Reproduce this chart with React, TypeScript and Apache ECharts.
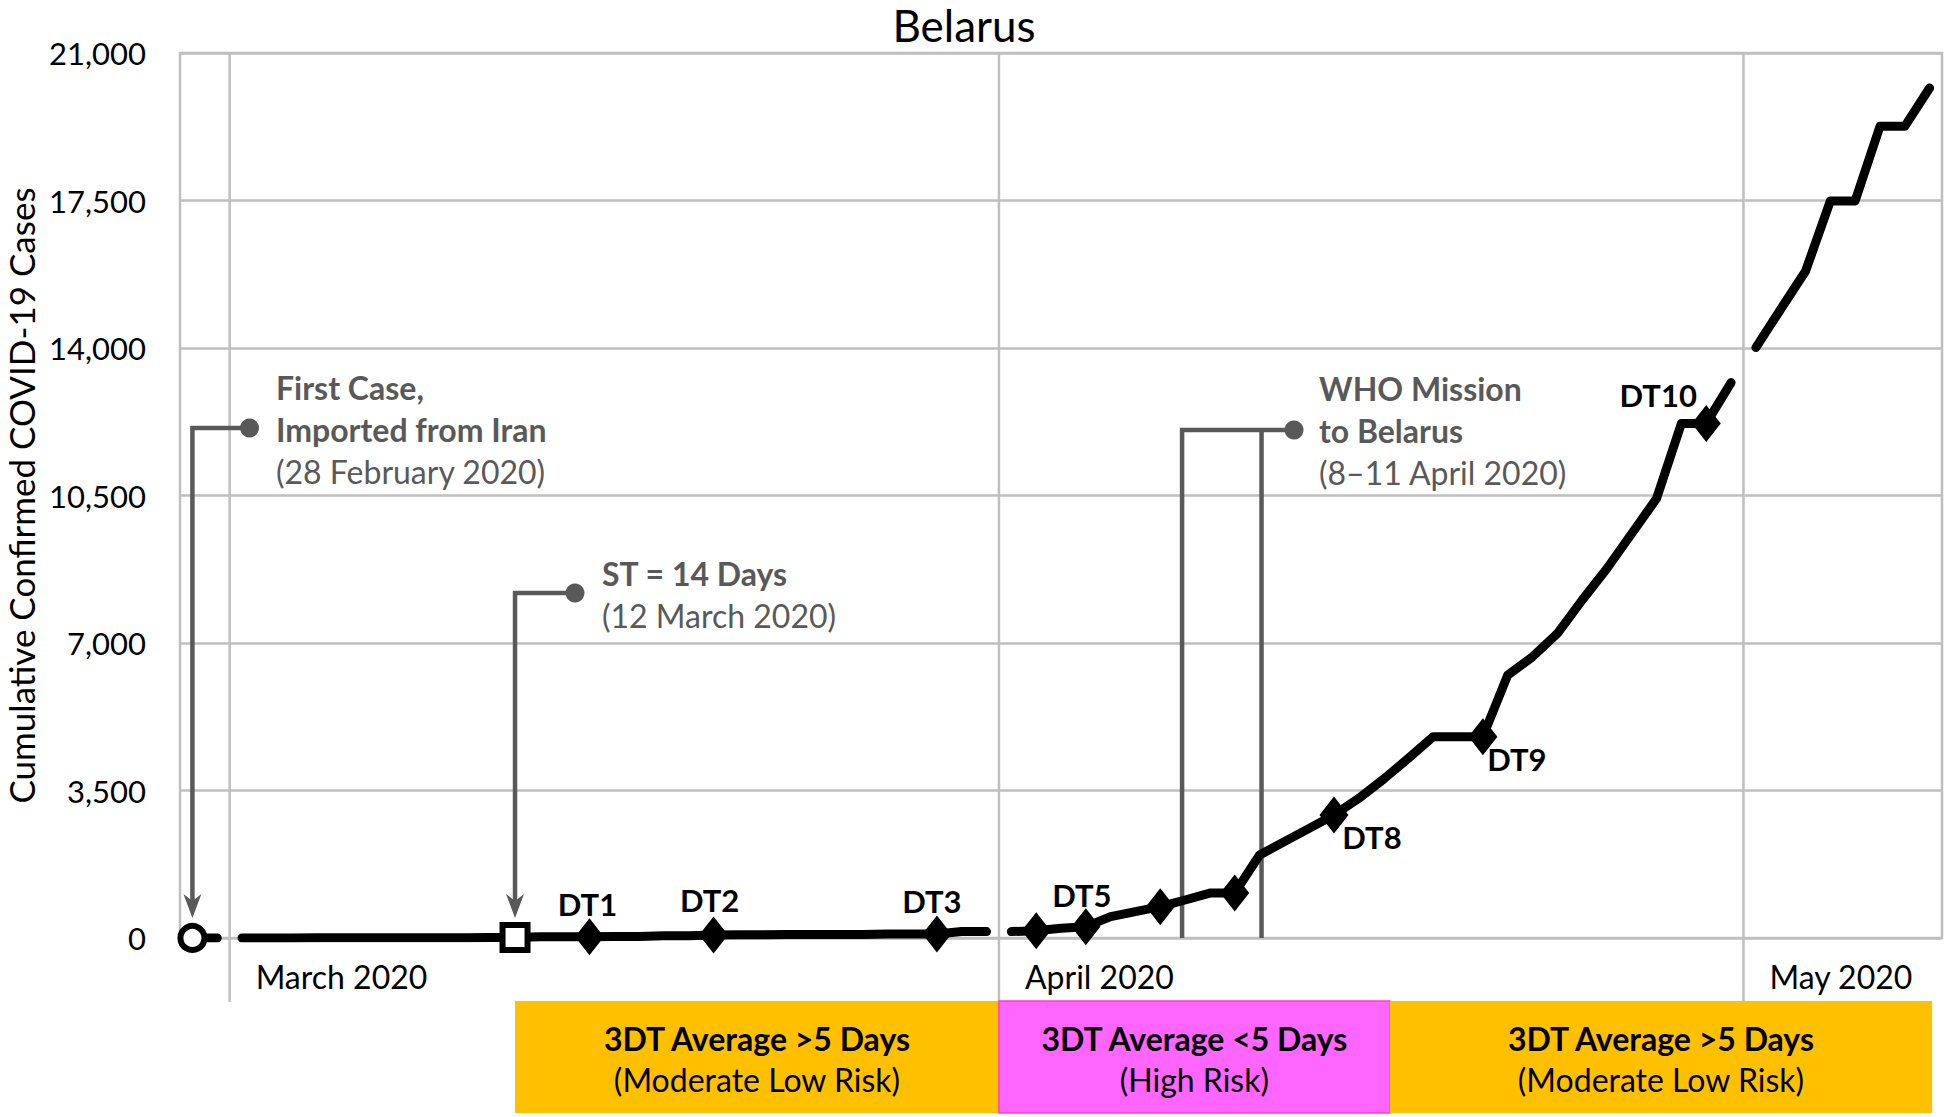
import React, { useEffect, useRef } from "react";
import * as echarts from "echarts";

const FONT = "Lato, 'Open Sans', 'DejaVu Sans', sans-serif";
const GRAY = "#595959";
const GRID = "#bfbfbf";

// ---- categories: one per day, 28 Feb 2020 – 8 May 2020 ----
const monthRanges: [string, number, number][] = [
  ["02", 28, 29],
  ["03", 1, 31],
  ["04", 1, 30],
  ["05", 1, 8],
];
const categories: string[] = [];
for (const [m, a, b] of monthRanges)
  for (let d = a; d <= b; d++) categories.push(`2020-${m}-${String(d).padStart(2, "0")}`);

// ---- cumulative confirmed cases ----
const febCases = [1, 1];
const marCases = [1, 1, 1, 6, 6, 6, 6, 6, 6, 6, 9, 12, 27, 27, 27, 36, 36, 51, 51, 69, 76, 76, 81, 81, 86, 86, 94, 94, 94, 152, 152];
const aprCases = [152, 174, 229, 269, 506, 625, 743, 902, 1066, 1066, 1969, 2286, 2602, 2919, 3314, 3770, 4264, 4777, 4777, 4777, 6237, 6672, 7224, 8017, 8768, 9598, 10430, 12210, 12210, 13180];
const mayCases = [14010, 14920, 15820, 17490, 17490, 19260, 19260, 20170];

const segments = [
  { start: "2020-02-28", values: febCases },
  { start: "2020-03-01", values: marCases },
  { start: "2020-04-01", values: aprCases },
  { start: "2020-05-01", values: mayCases },
];

const Y_MAX = 21000;
const Y_STEP = 3500;

const monthLabels = [
  { date: "2020-03-01", text: "March 2020" },
  { date: "2020-04-01", text: "April 2020" },
  { date: "2020-05-01", text: "May 2020" },
];

const markers = [
  { date: "2020-02-28", kind: "circle", label: "" },
  { date: "2020-03-12", kind: "square", label: "" },
  { date: "2020-03-15", kind: "diamond", label: "DT1" },
  { date: "2020-03-20", kind: "diamond", label: "DT2" },
  { date: "2020-03-29", kind: "diamond", label: "DT3" },
  { date: "2020-04-02", kind: "diamond", label: "" },
  { date: "2020-04-04", kind: "diamond", label: "DT5" },
  { date: "2020-04-07", kind: "diamond", label: "" },
  { date: "2020-04-10", kind: "diamond", label: "" },
  { date: "2020-04-14", kind: "diamond", label: "DT8" },
  { date: "2020-04-20", kind: "diamond", label: "DT9" },
  { date: "2020-04-29", kind: "diamond", label: "DT10" },
];

const riskBands = [
  { from: "2020-03-12", to: "2020-04-01", title: "3DT Average >5 Days", sub: "(Moderate Low Risk)", risk: "moderate" },
  { from: "2020-04-01", to: "2020-04-16", title: "3DT Average <5 Days", sub: "(High Risk)", risk: "high" },
  { from: "2020-04-16", to: "2020-05-08", title: "3DT Average >5 Days", sub: "(Moderate Low Risk)", risk: "moderate" },
];

const annotations = {
  firstCase: { date: "2020-02-28", lines: ["First Case,", "Imported from Iran", "(28 February 2020)"] },
  st: { date: "2020-03-12", lines: ["ST = 14 Days", "(12 March 2020)"] },
  who: { from: "2020-04-08", to: "2020-04-11", lines: ["WHO Mission", "to Belarus", "(8\u201311 April 2020)"] },
};

// ---- styles (kept apart from data) ----
const labelOffsets: Record<string, number[]> = {
  DT1: [-2, -33],
  DT2: [-4, -35],
  DT3: [-5, -33],
  DT5: [-4, -32],
  DT8: [38, 22],
  DT9: [34, 22],
  DT10: [-48, -28],
};
const riskColors: Record<string, string> = { moderate: "#FFC000", high: "#FF66FF" };

function buildSeries() {
  return segments.map((seg) => {
    const s = categories.indexOf(seg.start);
    const data = seg.values.map((v, i) => {
      const idx = s + i;
      const m = markers.find((mk) => mk.date === categories[idx]);
      if (!m) return { value: [idx, v] };
      const item: any = { value: [idx, v] };
      if (m.kind === "diamond") {
        item.symbol = "diamond";
        item.symbolSize = [29, 37];
        item.itemStyle = { color: "#000", borderWidth: 0 };
      } else if (m.kind === "circle") {
        item.symbol = "circle";
        item.symbolSize = 24;
        item.itemStyle = { color: "#fff", borderColor: "#000", borderWidth: 6 };
      } else {
        item.symbol = "rect";
        item.symbolSize = 25;
        item.itemStyle = { color: "#fff", borderColor: "#000", borderWidth: 6 };
      }
      if (m.label) {
        item.label = {
          show: true,
          formatter: m.label,
          position: "inside",
          offset: labelOffsets[m.label] || [0, -30],
          color: "#000",
          fontWeight: "bold",
          fontSize: 31,
          fontFamily: FONT,
        };
      }
      return item;
    });
    return {
      type: "line",
      data,
      symbol: "none",
      showAllSymbol: true,
      silent: true,
      z: 3,
      lineStyle: { color: "#000", width: 9, cap: "round", join: "round" },
      itemStyle: { color: "#000" },
      emphasis: { disabled: true },
    };
  });
}

function buildGraphics(chart: any) {
  const p = (i: number, v: number) => chart.convertToPixel({ gridIndex: 0 }, [i, v]) as number[];
  const x0 = p(0, 0)[0];
  const w = p(1, 0)[0] - x0;
  const ci = (d: string) => categories.indexOf(d);
  const xc = (d: string) => x0 + ci(d) * w; // center of a day
  const xb = (d: string) => x0 + (ci(d) - 0.5) * w; // left boundary of a day
  const yTop = p(0, Y_MAX)[1];
  const yZero = p(0, 0)[1];
  const els: any[] = [];

  // vertical month gridlines (extend below plot)
  for (const ml of monthLabels) {
    const x = xb(ml.date);
    els.push({ type: "line", z: 1, silent: true, shape: { x1: x, y1: yTop, x2: x, y2: yZero + 64 }, style: { stroke: GRID, lineWidth: 2.5 } });
    els.push({
      type: "text", z: 10, silent: true, x: x + 26, y: yZero + 38,
      style: { text: ml.text, fill: "#000", fontSize: 32, fontFamily: FONT, align: "left", verticalAlign: "middle" },
    });
  }

  // title and y-axis name
  els.push({ type: "text", z: 10, x: 964, y: 25, style: { text: "Belarus", fill: "#000", fontSize: 44, fontFamily: FONT, align: "center", verticalAlign: "middle" } });
  els.push({
    type: "text", z: 10, x: 21, y: (yTop + yZero) / 2, rotation: Math.PI / 2,
    style: { text: "Cumulative Confirmed COVID-19 Cases", fill: "#000", fontSize: 35, fontFamily: FONT, align: "center", verticalAlign: "middle" },
  });

  const arrowHead = (x: number, tipY: number) => ({
    type: "polygon", z: 4, silent: true,
    shape: { points: [[x, tipY], [x - 9, tipY - 24], [x, tipY - 17], [x + 9, tipY - 24]] },
    style: { fill: GRAY },
  });
  const textLines = (x: number, y: number, lines: string[], boldCount: number) =>
    lines.map((t, k) => ({
      type: "text", z: 10, silent: true, x, y: y + k * 42.3,
      style: { text: t, fill: GRAY, fontSize: 32, fontWeight: k < boldCount ? "bold" : "normal", fontFamily: FONT, align: "left", verticalAlign: "middle" },
    }));

  // first case annotation
  {
    const x = xc(annotations.firstCase.date);
    const dotX = 249.5, dotY = 428;
    els.push({ type: "polyline", z: 4, silent: true, shape: { points: [[dotX, dotY], [x, dotY], [x, yZero - 34]] }, style: { stroke: GRAY, lineWidth: 4.5, fill: null } });
    els.push(arrowHead(x, yZero - 20));
    els.push({ type: "circle", z: 4, silent: true, shape: { cx: dotX, cy: dotY, r: 9.5 }, style: { fill: GRAY } });
    els.push(...textLines(276, 387, annotations.firstCase.lines, 2));
  }
  // ST annotation
  {
    const x = xc(annotations.st.date);
    const dotX = 575, dotY = 593;
    els.push({ type: "polyline", z: 4, silent: true, shape: { points: [[dotX, dotY], [x, dotY], [x, yZero - 34]] }, style: { stroke: GRAY, lineWidth: 4.5, fill: null } });
    els.push(arrowHead(x, yZero - 20));
    els.push({ type: "circle", z: 4, silent: true, shape: { cx: dotX, cy: dotY, r: 9.5 }, style: { fill: GRAY } });
    els.push(...textLines(602, 573, annotations.st.lines, 1));
  }
  // WHO mission bracket
  {
    const xa = xc(annotations.who.from) - 3;
    const xbb = xc(annotations.who.to) + 2;
    const dotX = 1294, dotY = 430;
    els.push({ type: "polyline", z: 1, silent: true, shape: { points: [[xa, yZero], [xa, dotY], [dotX, dotY]] }, style: { stroke: GRAY, lineWidth: 4.5, fill: null } });
    els.push({ type: "line", z: 1, silent: true, shape: { x1: xbb, y1: yZero, x2: xbb, y2: dotY }, style: { stroke: GRAY, lineWidth: 4.5 } });
    els.push({ type: "circle", z: 4, silent: true, shape: { cx: dotX, cy: dotY, r: 9.5 }, style: { fill: GRAY } });
    els.push(...textLines(1319, 388, annotations.who.lines, 2));
  }

  // risk bands under the axis
  const bandTop = yZero + 63;
  const bandH = 112;
  riskBands.forEach((b, k) => {
    let l: number, right: number;
    if (k === 0) { l = xc(b.from); right = xb(b.to); }
    else if (k === 1) { l = xb(b.from); right = xc(b.to) + 0.25 * w; }
    else { l = xc(b.from) + 0.25 * w; right = xc(b.to) + 0.1 * w; }
    els.push({
      type: "rect", z: 1, silent: true,
      shape: { x: l, y: bandTop, width: right - l, height: bandH },
      style: { fill: riskColors[b.risk], stroke: b.risk === "high" ? "#FF3FBF" : null, lineWidth: 1.5 },
    });
    const cx = (l + right) / 2;
    els.push({ type: "text", z: 10, silent: true, x: cx, y: bandTop + 37, style: { text: b.title, fill: "#000", fontSize: 32, fontWeight: "bold", fontFamily: FONT, align: "center", verticalAlign: "middle" } });
    els.push({ type: "text", z: 10, silent: true, x: cx, y: bandTop + 78, style: { text: b.sub, fill: "#000", fontSize: 32, fontFamily: FONT, align: "center", verticalAlign: "middle" } });
  });

  return els;
}

export default function App() {
  const ref = useRef<HTMLDivElement>(null);
  useEffect(() => {
    if (!ref.current) return;
    const chart = echarts.init(ref.current, null, { renderer: "svg" });
    chart.setOption({
      animation: false,
      textStyle: { fontFamily: FONT },
      grid: { left: 180, right: 4, top: 53, bottom: 179, show: true, borderColor: GRID, borderWidth: 2.5, backgroundColor: "transparent" },
      xAxis: {
        type: "category",
        data: categories,
        boundaryGap: true,
        axisLine: { show: false },
        axisTick: { show: false },
        axisLabel: { show: false },
        splitLine: { show: false },
      },
      yAxis: {
        type: "value",
        min: 0,
        max: Y_MAX,
        interval: Y_STEP,
        axisLine: { show: false },
        axisTick: { show: false },
        axisLabel: {
          fontSize: 31,
          color: "#000",
          fontFamily: FONT,
          margin: 34,
          formatter: (v: number) => v.toLocaleString("en-US"),
        },
        splitLine: { show: true, lineStyle: { color: GRID, width: 2.5 } },
      },
      series: buildSeries(),
    });
    chart.setOption({ graphic: buildGraphics(chart) });
    return () => chart.dispose();
  }, []);
  return <div ref={ref} style={{ position: "fixed", left: 0, top: 0, width: 1946, height: 1117, background: "#fff" }} />;
}
